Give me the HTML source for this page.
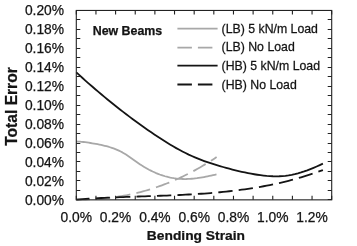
<!DOCTYPE html>
<html><head><meta charset="utf-8"><style>
html,body{margin:0;padding:0;background:#fff;}
svg{display:block;will-change:transform;}
text{font-family:"Liberation Sans",sans-serif;fill:#141414;stroke:#141414;stroke-width:0.25px;}
</style></head><body>
<svg width="357" height="246" viewBox="0 0 357 246">
<rect width="357" height="246" fill="#fff"/>
<g style="fill:none;stroke-linejoin:round">
<path d="M76.30,199.60 L78.68,199.59 L81.06,199.58 L83.43,199.54 L85.81,199.49 L88.19,199.42 L90.57,199.33 L92.95,199.22 L95.32,199.09 L97.70,198.93 L100.08,198.76 L102.46,198.56 L104.84,198.34 L107.21,198.10 L109.59,197.83 L111.97,197.54 L114.35,197.22 L116.73,196.88 L119.10,196.51 L121.48,196.12 L123.86,195.71 L126.24,195.26 L128.62,194.79 L130.99,194.30 L133.37,193.77 L135.75,193.22 L138.13,192.64 L140.51,192.04 L142.88,191.41 L145.26,190.75 L147.64,190.06 L150.02,189.34 L152.39,188.59 L154.77,187.82 L157.15,187.02 L159.53,186.18 L161.91,185.32 L164.28,184.43 L166.66,183.51 L169.04,182.56 L171.42,181.58 L173.80,180.57 L176.17,179.53 L178.55,178.46 L180.93,177.35 L183.31,176.22 L185.69,175.06 L188.06,173.86 L190.44,172.64 L192.82,171.38 L195.20,170.09 L197.58,168.77 L199.95,167.42 L202.33,166.04 L204.71,164.62 L207.09,163.17 L209.47,161.69 L211.84,160.18 L214.22,158.64 L216.60,157.06" style="stroke:#a8a8a8;stroke-width:1.8;stroke-dasharray:14.17 6.24;stroke-dashoffset:0.64"/>
<path d="M76.30,141.49 L78.07,141.56 L79.85,141.68 L81.62,141.83 L83.40,142.01 L85.17,142.23 L86.95,142.47 L88.72,142.73 L90.50,143.01 L92.27,143.30 L94.05,143.60 L95.82,143.91 L97.60,144.24 L99.37,144.59 L101.15,144.96 L102.92,145.36 L104.69,145.78 L106.47,146.24 L108.24,146.73 L110.02,147.25 L111.79,147.82 L113.57,148.44 L115.34,149.11 L117.12,149.83 L118.89,150.63 L120.67,151.49 L122.44,152.42 L124.22,153.44 L125.99,154.53 L127.77,155.70 L129.54,156.91 L131.32,158.17 L133.09,159.44 L134.86,160.71 L136.64,161.97 L138.41,163.21 L140.19,164.40 L141.96,165.55 L143.74,166.65 L145.51,167.70 L147.29,168.71 L149.06,169.68 L150.84,170.60 L152.61,171.47 L154.39,172.29 L156.16,173.07 L157.94,173.80 L159.71,174.49 L161.48,175.12 L163.26,175.71 L165.03,176.25 L166.81,176.74 L168.58,177.19 L170.36,177.59 L172.13,177.93 L173.91,178.23 L175.68,178.48 L177.46,178.68 L179.23,178.83 L181.01,178.94 L182.78,179.00 L184.56,179.03 L186.33,179.01 L188.11,178.95 L189.88,178.85 L191.65,178.73 L193.43,178.57 L195.20,178.37 L196.98,178.16 L198.75,177.91 L200.53,177.64 L202.30,177.34 L204.08,177.03 L205.85,176.69 L207.63,176.34 L209.40,175.98 L211.18,175.60 L212.95,175.20 L214.73,174.80 L216.50,174.40" style="stroke:#a8a8a8;stroke-width:1.8"/>
<path d="M76.30,199.57 L79.42,199.34 L82.54,199.11 L85.66,198.89 L88.79,198.69 L91.91,198.50 L95.03,198.32 L98.15,198.15 L101.27,197.99 L104.39,197.83 L107.52,197.68 L110.64,197.55 L113.76,197.41 L116.88,197.29 L120.00,197.16 L123.12,197.05 L126.24,196.93 L129.37,196.82 L132.49,196.72 L135.61,196.61 L138.73,196.51 L141.85,196.40 L144.97,196.30 L148.09,196.20 L151.22,196.09 L154.34,195.99 L157.46,195.88 L160.58,195.77 L163.70,195.65 L166.82,195.53 L169.95,195.41 L173.07,195.28 L176.19,195.14 L179.31,195.00 L182.43,194.85 L185.55,194.69 L188.67,194.52 L191.80,194.34 L194.92,194.16 L198.04,193.96 L201.16,193.75 L204.28,193.53 L207.40,193.30 L210.53,193.05 L213.65,192.79 L216.77,192.52 L219.89,192.23 L223.01,191.92 L226.13,191.60 L229.25,191.26 L232.38,190.91 L235.50,190.53 L238.62,190.14 L241.74,189.73 L244.86,189.29 L247.98,188.84 L251.11,188.36 L254.23,187.87 L257.35,187.35 L260.47,186.80 L263.59,186.24 L266.71,185.65 L269.83,185.03 L272.96,184.39 L276.08,183.72 L279.20,183.02 L282.32,182.30 L285.44,181.54 L288.56,180.76 L291.68,179.95 L294.81,179.11 L297.93,178.24 L301.05,177.34 L304.17,176.40 L307.29,175.43 L310.41,174.43 L313.54,173.39 L316.66,172.32 L319.78,171.22 L322.90,170.07" style="stroke:#141414;stroke-width:1.8;stroke-dasharray:14.35 6.14;stroke-dashoffset:1.22"/>
<path d="M76.30,72.35 L79.42,75.20 L82.54,78.02 L85.66,80.81 L88.79,83.57 L91.91,86.29 L95.03,88.99 L98.15,91.66 L101.27,94.29 L104.39,96.90 L107.52,99.47 L110.64,102.02 L113.76,104.53 L116.88,107.02 L120.00,109.47 L123.12,111.89 L126.24,114.29 L129.37,116.65 L132.49,118.98 L135.61,121.29 L138.73,123.56 L141.85,125.80 L144.97,128.01 L148.09,130.19 L151.22,132.35 L154.34,134.47 L157.46,136.55 L160.58,138.60 L163.70,140.60 L166.82,142.56 L169.95,144.46 L173.07,146.31 L176.19,148.10 L179.31,149.82 L182.43,151.48 L185.55,153.07 L188.67,154.59 L191.80,156.02 L194.92,157.38 L198.04,158.67 L201.16,159.89 L204.28,161.05 L207.40,162.15 L210.53,163.20 L213.65,164.20 L216.77,165.16 L219.89,166.09 L223.01,166.99 L226.13,167.86 L229.25,168.71 L232.38,169.53 L235.50,170.33 L238.62,171.09 L241.74,171.81 L244.86,172.49 L247.98,173.13 L251.11,173.72 L254.23,174.26 L257.35,174.74 L260.47,175.17 L263.59,175.54 L266.71,175.85 L269.83,176.08 L272.96,176.23 L276.08,176.29 L279.20,176.24 L282.32,176.09 L285.44,175.81 L288.56,175.39 L291.68,174.84 L294.81,174.16 L297.93,173.36 L301.05,172.45 L304.17,171.43 L307.29,170.32 L310.41,169.12 L313.54,167.85 L316.66,166.52 L319.78,165.13 L322.90,163.69" style="stroke:#141414;stroke-width:1.8"/>
</g>
<rect x="76.3" y="10.45" width="255.40" height="189.40" style="fill:none;stroke:#222;stroke-width:1.1"/>
<path d="M76.30,199.85 v-4 M76.30,10.45 v4 M95.95,199.85 v-4 M95.95,10.45 v4 M115.59,199.85 v-4 M115.59,10.45 v4 M135.24,199.85 v-4 M135.24,10.45 v4 M154.88,199.85 v-4 M154.88,10.45 v4 M174.53,199.85 v-4 M174.53,10.45 v4 M194.18,199.85 v-4 M194.18,10.45 v4 M213.82,199.85 v-4 M213.82,10.45 v4 M233.47,199.85 v-4 M233.47,10.45 v4 M253.12,199.85 v-4 M253.12,10.45 v4 M272.76,199.85 v-4 M272.76,10.45 v4 M292.41,199.85 v-4 M292.41,10.45 v4 M312.05,199.85 v-4 M312.05,10.45 v4 M331.70,199.85 v-4 M331.70,10.45 v4 M76.30,199.50 h4 M331.70,199.50 h-4 M76.30,190.50 h4 M331.70,190.50 h-4 M76.30,180.50 h4 M331.70,180.50 h-4 M76.30,171.50 h4 M331.70,171.50 h-4 M76.30,161.50 h4 M331.70,161.50 h-4 M76.30,152.50 h4 M331.70,152.50 h-4 M76.30,143.50 h4 M331.70,143.50 h-4 M76.30,133.50 h4 M331.70,133.50 h-4 M76.30,124.50 h4 M331.70,124.50 h-4 M76.30,114.50 h4 M331.70,114.50 h-4 M76.30,105.50 h4 M331.70,105.50 h-4 M76.30,95.50 h4 M331.70,95.50 h-4 M76.30,86.50 h4 M331.70,86.50 h-4 M76.30,76.50 h4 M331.70,76.50 h-4 M76.30,67.50 h4 M331.70,67.50 h-4 M76.30,57.50 h4 M331.70,57.50 h-4 M76.30,48.50 h4 M331.70,48.50 h-4 M76.30,38.50 h4 M331.70,38.50 h-4 M76.30,29.50 h4 M331.70,29.50 h-4 M76.30,19.50 h4 M331.70,19.50 h-4 M76.30,10.50 h4 M331.70,10.50 h-4" style="fill:none;stroke:#222;stroke-width:1.1"/>
<g style="font-size:13.8px">
<text x="64.0" y="15.10" text-anchor="end">0.20%</text>
<text x="64.0" y="34.04" text-anchor="end">0.18%</text>
<text x="64.0" y="52.98" text-anchor="end">0.16%</text>
<text x="64.0" y="71.92" text-anchor="end">0.14%</text>
<text x="64.0" y="90.86" text-anchor="end">0.12%</text>
<text x="64.0" y="109.80" text-anchor="end">0.10%</text>
<text x="64.0" y="128.74" text-anchor="end">0.08%</text>
<text x="64.0" y="147.68" text-anchor="end">0.06%</text>
<text x="64.0" y="166.62" text-anchor="end">0.04%</text>
<text x="64.0" y="185.56" text-anchor="end">0.02%</text>
<text x="64.0" y="204.50" text-anchor="end">0.00%</text>
<text x="76.30" y="221.6" text-anchor="middle">0.0%</text>
<text x="115.59" y="221.6" text-anchor="middle">0.2%</text>
<text x="154.88" y="221.6" text-anchor="middle">0.4%</text>
<text x="194.18" y="221.6" text-anchor="middle">0.6%</text>
<text x="233.47" y="221.6" text-anchor="middle">0.8%</text>
<text x="272.76" y="221.6" text-anchor="middle">1.0%</text>
<text x="312.05" y="221.6" text-anchor="middle">1.2%</text>
</g>
<path d="M177.4,28.6 H217.6" style="fill:none;stroke:#a8a8a8;stroke-width:1.8"/>
<path d="M177.4,47.6 H212.5" style="fill:none;stroke:#a8a8a8;stroke-width:1.8;stroke-dasharray:14.5 6"/>
<path d="M177.4,65.7 H217.6" style="fill:none;stroke:#141414;stroke-width:1.8"/>
<path d="M177.4,84.5 H212.5" style="fill:none;stroke:#141414;stroke-width:1.8;stroke-dasharray:14.5 6"/>

<g style="font-size:12px" transform="translate(221.6,0) scale(1.026,1)">
<text x="0" y="32.75">(LB) 5 kN/m Load</text>
<text x="0" y="50.95">(LB) No Load</text>
<text x="0" y="69.85">(HB) 5 kN/m Load</text>
<text x="0" y="88.65">(HB) No Load</text>
</g>
<text x="92.7" y="34.7" style="font-size:12.4px;font-weight:bold">New Beams</text>
<text transform="translate(195.9,239.8) scale(1.045,1)" text-anchor="middle" style="font-size:13.2px;font-weight:bold">Bending Strain</text>
<text transform="translate(16.7,106.5) rotate(-90)" text-anchor="middle" style="font-size:15.6px;font-weight:bold">Total Error</text>
</svg>
</body></html>
